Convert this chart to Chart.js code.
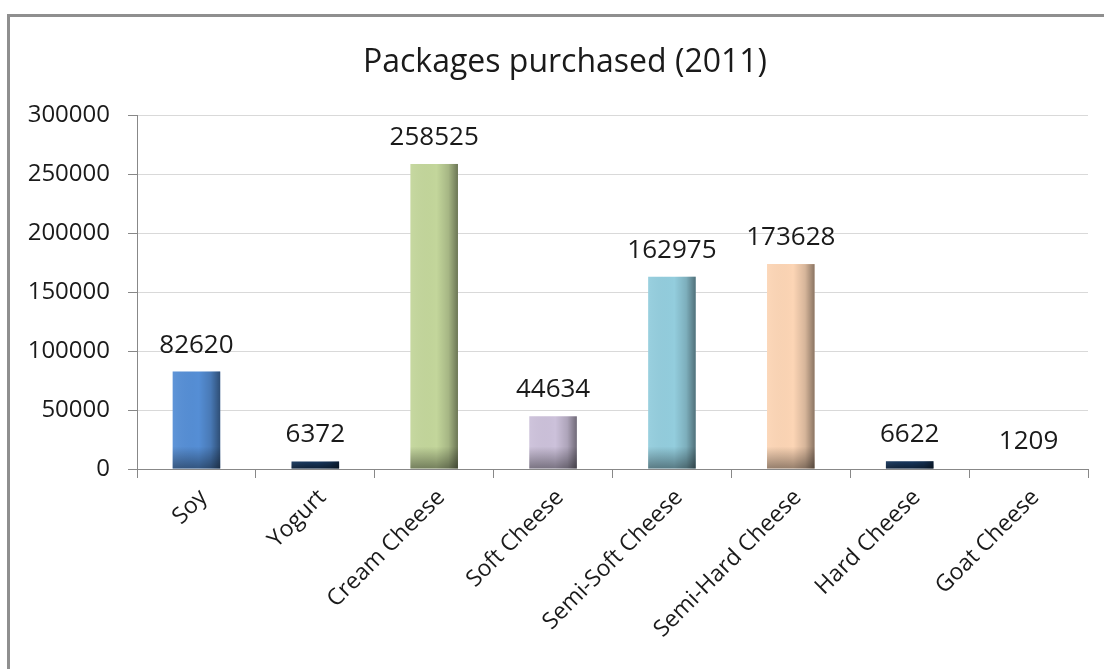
<!DOCTYPE html>
<html>
<head>
<meta charset="utf-8">
<script src="https://cdn.jsdelivr.net/npm/chart.js@4.4.1/dist/chart.umd.min.js"></script>
<style>
  html, body { margin: 0; padding: 0; background: #fff; }
  #wrap { position: relative; width: 1104px; height: 669px; overflow: hidden; }
  #frame { position: absolute; left: 7px; top: 14px; width: 1200px; height: 800px; border: 3px solid #8f8f8f; box-sizing: border-box; }
  canvas { position: absolute; left: 0; top: 0; }
</style>
</head>
<body>
<div id="wrap">
  <div id="frame"></div>
  <canvas id="c" width="1104" height="669"></canvas>
</div>
<script>
const chartTitle = 'Packages purchased (2011)';
const categories = ['Soy', 'Yogurt', 'Cream Cheese', 'Soft Cheese', 'Semi-Soft Cheese', 'Semi-Hard Cheese', 'Hard Cheese', 'Goat Cheese'];
const packages = [82620, 6372, 258525, 44634, 162975, 173628, 6622, 1209];
const barColors = ['#558ED5', '#17375E', '#C3D69B', '#CCC1DA', '#93CDDD', '#FCD5B5', '#17375E', '#FFFFFF'];
const yMin = 0, yMax = 300000, yStep = 50000;

const FONT = '"Open Sans", "Noto Sans", sans-serif';

const frameTitle = {
  id: 'frameTitle',
  afterDraw(chart) {
    const ctx = chart.ctx;
    ctx.save();
    ctx.font = '32px ' + FONT;
    ctx.fillStyle = '#1a1a1a';
    ctx.textAlign = 'center';
    ctx.textBaseline = 'alphabetic';
    ctx.fillText(chartTitle, 565, 72);
    ctx.restore();
  }
};

const shade = {
  id: 'shade',
  afterDatasetsDraw(chart) {
    const ctx = chart.ctx;
    const meta = chart.getDatasetMeta(0);
    meta.data.forEach((bar) => {
      const p = bar.getProps(['x', 'y', 'base', 'width'], true);
      const l = p.x - p.width / 2, h = p.base - p.y;
      if (h <= 2) return;
      ctx.save();
      let g = ctx.createLinearGradient(l, 0, l + p.width, 0);
      g.addColorStop(0, 'rgba(255,255,255,0.06)');
      g.addColorStop(0.55, 'rgba(0,0,0,0)');
      g.addColorStop(0.8, 'rgba(0,0,0,0.15)');
      g.addColorStop(1, 'rgba(0,0,0,0.45)');
      ctx.fillStyle = g;
      ctx.fillRect(l, p.y, p.width, h);
      const bh = Math.min(22, h);
      g = ctx.createLinearGradient(0, p.base - bh, 0, p.base);
      g.addColorStop(0, 'rgba(0,0,0,0)');
      g.addColorStop(1, 'rgba(0,0,0,0.4)');
      ctx.fillStyle = g;
      ctx.fillRect(l, p.base - bh, p.width, bh);
      ctx.restore();
    });
  }
};

const valueLabels = {
  id: 'valueLabels',
  afterDatasetsDraw(chart) {
    const ctx = chart.ctx;
    const meta = chart.getDatasetMeta(0);
    const data = chart.data.datasets[0].data;
    ctx.save();
    ctx.font = '26px ' + FONT;
    ctx.fillStyle = '#1a1a1a';
    ctx.textAlign = 'center';
    ctx.textBaseline = 'alphabetic';
    meta.data.forEach((bar, i) => {
      const p = bar.getProps(['x', 'y'], true);
      ctx.fillText(String(data[i]), p.x, p.y - 19);
    });
    ctx.restore();
  }
};

new Chart(document.getElementById('c'), {
  type: 'bar',
  data: {
    labels: categories,
    datasets: [{
      data: packages,
      backgroundColor: barColors,
      borderWidth: 0,
      categoryPercentage: 1,
      barPercentage: 0.4
    }]
  },
  options: {
    responsive: false,
    animation: false,
    events: [],
    layout: { padding: { top: 115, right: 16, left: 0, bottom: 0 } },
    plugins: { legend: { display: false }, title: { display: false }, tooltip: { enabled: false } },
    scales: {
      x: {
        afterFit(s) { s.height = 200; },
        grid: { display: true, drawOnChartArea: false, color: '#888', tickLength: 9, offset: true },
        border: { color: '#888', width: 1 },
        ticks: { maxRotation: 45, minRotation: 45, autoSkip: false, color: '#1a1a1a', font: { family: FONT, size: 23 }, padding: 6, labelOffset: 7 }
      },
      y: {
        min: yMin, max: yMax,
        afterFit(s) { s.width = 137; },
        grid: { color: '#D9D9D9', tickColor: '#888', tickLength: 9 },
        border: { color: '#888', width: 1 },
        ticks: { stepSize: yStep, color: '#1a1a1a', font: { family: FONT, size: 24 }, padding: 18, callback: (v) => String(v) }
      }
    }
  },
  plugins: [shade, valueLabels, frameTitle]
});
</script>
</body>
</html>
